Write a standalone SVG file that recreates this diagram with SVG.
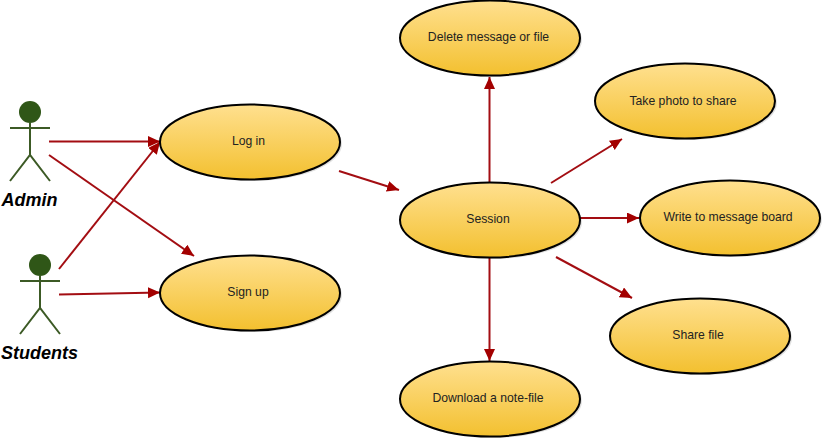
<svg xmlns="http://www.w3.org/2000/svg" width="823" height="443" viewBox="0 0 823 443">
<style>
.uc ellipse.b{fill:url(#g);stroke:#000;stroke-width:2}
.uc ellipse.s{fill:#000;opacity:.12}
.uc text{font:12.2px "Liberation Sans",Arial,sans-serif;fill:#222;text-anchor:middle}
.actor circle{fill:#2f5617}
.actor path{fill:none;stroke:#3c5a25;stroke-width:2}
.actor text{font:italic bold 18px "Liberation Sans",Arial,sans-serif;fill:#000;text-anchor:middle}
#connectors line{stroke:#a30d12;stroke-width:2;marker-end:url(#a)}
</style>
<defs>
<linearGradient id="g" x1="0" y1="0" x2="0" y2="1"><stop offset="0" stop-color="#ffe08f"/><stop offset="1" stop-color="#f3c02f"/></linearGradient>
<marker id="a" markerUnits="userSpaceOnUse" markerWidth="14" markerHeight="12" refX="12" refY="5.500" orient="auto"><path d="M0 0L12 5.500L0 11Z" fill="#a30000"/></marker>
</defs>
<g id="connectors">
<line x1="49" y1="141.500" x2="160" y2="141.500"/>
<line x1="49" y1="155" x2="194" y2="256"/>
<line x1="59" y1="269" x2="160" y2="142"/>
<line x1="59" y1="294.500" x2="160" y2="292.500"/>
<line x1="339" y1="171" x2="399" y2="190"/>
<line x1="489.500" y1="183" x2="489.500" y2="77"/>
<line x1="489.500" y1="258" x2="489.500" y2="361"/>
<line x1="551" y1="183" x2="622" y2="139"/>
<line x1="580" y1="218" x2="639" y2="218"/>
<line x1="556" y1="257" x2="632" y2="298"/>
</g>
<g id="actor-admin" class="actor"><circle cx="30" cy="112" r="11"/><path d="M30 123V155M10 128H50M10 181L30 155L50 181"/><text x="29.500" y="206">Admin</text></g>
<g id="actor-students" class="actor"><circle cx="40" cy="265" r="11"/><path d="M40 276V308M20 281H60M20 334L40 308L60 334"/><text x="39.500" y="359">Students</text></g>
<g id="login" class="uc"><ellipse class="s" cx="252" cy="144" rx="90" ry="37"/><ellipse class="b" cx="250" cy="142" rx="90" ry="37.500"/><text x="248.500" y="145">Log in</text></g>
<g id="signup" class="uc"><ellipse class="s" cx="252" cy="295" rx="90" ry="37"/><ellipse class="b" cx="250" cy="293" rx="90" ry="37.500"/><text x="248" y="296">Sign up</text></g>
<g id="session" class="uc"><ellipse class="s" cx="492" cy="222" rx="90" ry="37"/><ellipse class="b" cx="490" cy="220" rx="90" ry="37.500"/><text x="488" y="223">Session</text></g>
<g id="delete" class="uc"><ellipse class="s" cx="492" cy="40" rx="90" ry="37"/><ellipse class="b" cx="490" cy="38" rx="90" ry="37.500"/><text x="488.500" y="41">Delete message or file</text></g>
<g id="photo" class="uc"><ellipse class="s" cx="687" cy="103" rx="90" ry="37"/><ellipse class="b" cx="685" cy="101" rx="90" ry="37.500"/><text x="683" y="105">Take photo to share</text></g>
<g id="board" class="uc"><ellipse class="s" cx="732" cy="220" rx="90" ry="37"/><ellipse class="b" cx="730" cy="218" rx="90" ry="37.500"/><text x="728" y="221">Write to message board</text></g>
<g id="share" class="uc"><ellipse class="s" cx="702" cy="338" rx="90" ry="37"/><ellipse class="b" cx="700" cy="336" rx="90" ry="37.500"/><text x="698" y="339">Share file</text></g>
<g id="download" class="uc"><ellipse class="s" cx="492" cy="401" rx="90" ry="37"/><ellipse class="b" cx="490" cy="399" rx="90" ry="37.500"/><text x="488" y="402">Download a note-file</text></g>
</svg>
